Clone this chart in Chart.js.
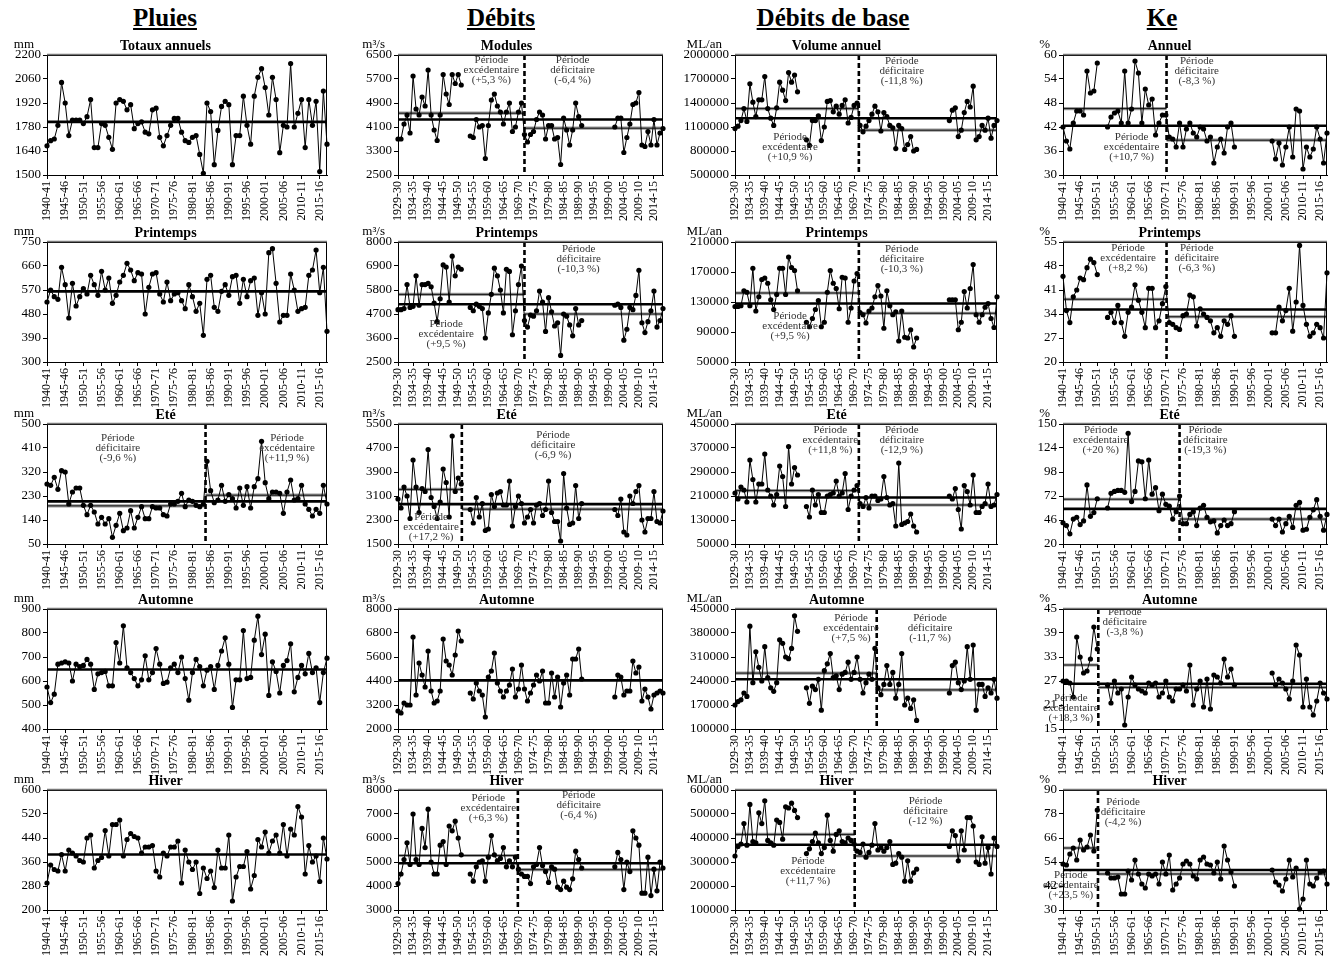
<!DOCTYPE html>
<html>
<head>
<meta charset="utf-8">
<script src="https://cdn.jsdelivr.net/npm/chart.js@4.4.0/dist/chart.umd.min.js"></script>
<style>
  body { margin: 0; background: #fff; width: 1340px; height: 960px; position: relative; overflow: hidden; font-family: "Liberation Serif", "Times New Roman", serif; }
  canvas { position: absolute; }
  .head { position: absolute; top: 4px; font-weight: bold; font-size: 25px; text-decoration: underline; transform: translateX(-50%); white-space: nowrap; }
</style>
</head>
<body>
<div class="head" style="left:165px">Pluies</div>
<div class="head" style="left:501px">Débits</div>
<div class="head" style="left:833px">Débits de base</div>
<div class="head" style="left:1162px">Ke</div>
<script>
// hydrological years
function seasons(a, b) {
    const out = [];
    for (let y = a; y <= b; y++) out.push(y + '-' + String((y + 1) % 100).padStart(2, '0'));
    return out;
}
const yearsPluies = seasons(1940, 2017);
const yearsDebits = seasons(1929, 2017);
const yearsKe = seasons(1940, 2017);

// ---- Pluies (mm)
const pluiesAnnuel = [1670,1700,1710,1790,2040,1920,1730,1820,1820,1820,1800,1840,1940,1660,1660,1800,1790,1720,1650,1920,1940,1930,1880,1910,1770,1800,1810,1750,1740,1880,1890,1720,1670,1730,1790,1830,1830,1750,1700,1690,1720,1730,1620,1510,1920,1870,1560,1760,1900,1930,1910,1560,1730,1730,1960,1790,1680,1960,2070,2120,2010,1850,2070,1940,1630,1790,1780,2150,1780,1860,1940,1660,1940,1790,1930,1520,1990,1680];
const pluiesPrintemps = [525,570,545,535,655,590,465,595,510,545,575,555,625,590,550,640,570,615,520,550,600,625,670,645,605,635,630,480,580,630,635,555,525,600,530,555,560,530,500,590,545,490,520,400,610,625,505,490,565,590,550,620,625,520,610,545,605,615,475,560,480,710,725,595,450,475,475,630,570,490,500,505,625,645,720,560,655,415];
const pluiesEte = [275,270,300,255,325,320,200,245,260,260,195,160,195,170,125,150,125,145,75,120,165,100,110,175,110,150,190,145,145,190,185,185,160,155,200,200,210,240,190,215,210,195,190,200,360,250,205,215,270,210,235,220,185,260,195,265,185,265,295,435,280,220,245,245,240,165,245,290,215,220,270,200,180,155,180,165,270,200];
const pluiesAutomne = [575,510,545,670,675,680,675,600,670,660,665,690,670,565,630,635,640,580,580,760,675,830,655,635,610,580,605,705,605,635,735,670,590,595,655,670,635,700,610,520,635,690,660,580,645,660,565,665,725,780,670,490,605,605,810,610,615,770,870,710,795,540,680,640,550,665,685,755,555,615,665,630,715,635,655,510,635,695];
const pluiesHiver = [290,350,335,330,385,330,400,390,380,365,360,440,450,340,365,375,465,380,485,485,500,380,435,455,445,440,390,410,410,415,330,310,390,380,410,410,430,290,400,360,335,360,255,340,305,330,275,400,340,340,450,230,310,345,345,395,270,315,435,410,460,390,430,450,390,485,380,470,450,545,510,320,415,360,380,295,440,370];

// ---- Débits (m3/s)
const debModules = [3700,3700,4200,4500,3900,5800,4700,4500,5100,4800,6000,4500,4000,3650,4500,5850,5200,4850,5850,5550,5850,5500, null,null,
    3800,3750,4350,4100,4150,3050,4150,5000,5200,4800,4600,4200,4600,4900,3950,4100,4600,4900,3850,3600,3850,3950,4350,4600,4500,3700,4150,4150,3700,3750,2850,4400,4000,3500,4000,4900,4450,4150,
    null,null,null,null,null,null,null,null,null,null,
    4100,4400,4400,3250,3750,4200,4850,4900,5250,3500,3450,3950,3500,4350,3500,3900,4050];
const debPrintemps = [4900,4900,4950,6050,5000,5050,6450,5100,6050,6050,6100,5950,5200,4350,5400,6950,6850,5250,7350,6450,6850,6750, null,null,
    5000,4850,5150,5050,4950,3600,4750,5600,6800,6450,5800,4750,6750,6650,3750,4850,6050,6900,4400,4100,4650,4600,4850,5750,5250,3900,5450,4800,4150,4300,2800,4700,4600,4200,3700,4950,4200,4400,
    null,null,null,null,null,null,null,null,null,null,
    5100,5150,5000,3500,4000,5000,4900,5550,6700,4300,3850,4350,4850,5750,4100,4400,4950];
const debEte = [3000,2700,3400,3100,2350,4300,3400,2550,3350,3250,4650,3050,2750,2350,2900,4000,3550,2400,5100,3250,3700,3500, null,null,
    2650,2200,3050,2400,2850,1950,2000,3150,2750,3200,3250,2800,2800,3600,2100,2750,3100,2850,2200,2400,2650,2200,2800,2850,2450,2650,3600,2550,2250,2250,1600,3850,2700,2150,2200,3450,2350,2850,
    null,null,null,null,null,null,null,null,null,null,
    2650,2450,3000,1900,1800,3100,2850,3250,3450,2300,1900,2350,2350,3250,2250,2200,2600];
const debAutomne = [2900,2800,3300,3200,3200,6600,3700,5300,4700,4100,5900,3900,3300,3400,3900,6500,5400,5200,4700,5700,6900,6400, null,null,
    3800,3500,4300,3900,3700,2600,4600,4900,5800,4300,3900,3600,3900,4200,5000,3600,4000,5200,4000,3400,3800,4200,4700,4400,4900,3300,3300,4800,3600,4600,3100,4300,4700,3700,5500,5500,6000,4500,
    null,null,null,null,null,null,null,null,null,null,
    3600,4700,4600,3700,3900,3900,5400,4800,5100,3400,4000,3600,3000,3700,3800,3900,3800];
const debHiver = [4100,4500,5100,5800,4900,7000,5100,4900,6400,5600,7200,5000,4500,4500,5700,5850,4900,6500,6300,6700,6000,5300, null,null,
    4500,4200,4800,5000,5050,4200,5200,6100,5300,5050,5150,5600,4800,5050,4800,5200,4700,4500,4400,4400,4100,4800,4900,5600,4850,4600,4150,4800,4700,3950,3850,4200,3950,3850,4300,5450,5100,4750,
    null,null,null,null,null,null,null,null,null,null,
    4800,5400,5100,3850,5000,4600,6300,6000,5700,3700,3700,5200,3600,4700,3800,5000,4750];

// ---- Débits de base (ML/an)
const ddbVolume = [1080000,1110000,1180000,1330000,1170000,1640000,1410000,1230000,1440000,1440000,1730000,1330000,1210000,1120000,1340000,1660000,1560000,1430000,1780000,1660000,1750000,1540000, null,null,
    940000,870000,1180000,1180000,1240000,930000,1100000,1420000,1430000,1290000,1360000,1260000,1370000,1440000,1150000,1220000,1370000,1400000,1120000,1040000,1110000,1180000,1260000,1360000,1290000,1050000,1280000,1230000,1120000,1090000,830000,1120000,1080000,820000,880000,980000,800000,820000,
    null,null,null,null,null,null,null,null,null,null,
    1180000,1310000,1340000,980000,1060000,1280000,1420000,1350000,1610000,940000,980000,1120000,1060000,1210000,960000,1120000,1180000];
const ddbPrintemps = [124000,124000,125000,145000,143000,125000,175000,118000,137000,160000,162000,155000,133000,120000,140000,175000,175000,140000,190000,176000,172000,145000, null,null,
    103000,97000,108000,120000,132000,97000,103000,143000,172000,155000,148000,121000,163000,162000,103000,122000,158000,168000,116000,113000,102000,118000,122000,137000,152000,138000,95000,145000,125000,113000,117000,78000,118000,83000,82000,93000,70000,82000,
    null,null,null,null,null,null,null,null,null,null,
    133000,133000,133000,93000,103000,144000,122000,148000,180000,113000,103000,113000,123000,128000,108000,96000,137000];
const ddbEte = [220000,200000,240000,230000,190000,330000,265000,190000,250000,250000,350000,230000,210000,180000,215000,310000,275000,175000,375000,250000,305000,280000, null,null,
    175000,140000,230000,180000,215000,155000,155000,210000,215000,220000,260000,210000,220000,285000,165000,210000,230000,245000,185000,175000,205000,170000,210000,210000,195000,200000,275000,205000,180000,185000,110000,320000,115000,120000,125000,150000,110000,90000,
    null,null,null,null,null,null,null,null,null,null,
    210000,200000,235000,165000,100000,245000,225000,180000,280000,155000,155000,175000,185000,250000,175000,180000,215000];
const ddbAutomne = [170000,180000,185000,205000,195000,400000,235000,325000,280000,240000,340000,250000,220000,210000,235000,360000,350000,310000,305000,335000,430000,385000, null,null,
    220000,175000,225000,215000,245000,155000,270000,290000,320000,250000,255000,215000,260000,265000,295000,245000,265000,310000,245000,205000,235000,260000,245000,335000,220000,200000,230000,285000,230000,265000,190000,230000,320000,170000,190000,160000,185000,125000,
    null,null,null,null,null,null,null,null,null,null,
    205000,285000,295000,235000,215000,240000,340000,245000,345000,155000,230000,230000,195000,220000,205000,245000,190000];
const ddbHiver = [325000,365000,375000,460000,370000,540000,385000,380000,505000,460000,555000,390000,380000,370000,475000,465000,395000,530000,525000,545000,515000,485000, null,null,
    335000,355000,385000,420000,380000,335000,360000,495000,390000,345000,415000,430000,385000,380000,400000,390000,375000,345000,340000,375000,320000,340000,370000,460000,350000,360000,345000,360000,385000,290000,295000,335000,320000,220000,305000,220000,255000,270000,
    null,null,null,null,null,null,null,null,null,null,
    365000,430000,410000,305000,430000,350000,485000,485000,450000,300000,290000,405000,295000,360000,250000,400000,365000];

// ---- Ke (%)
const keAnnuel = [42,38.5,36.5,43,46,46,45,56,50.5,51,58, null,null,
    42,44.5,45.5,46,43,56,43,46.5,58.5,55.5,43,51.5,47.5,49,40,43,45,45,39.5,39,37,43,37,41.5,43,40.5,39.5,42,41.5,38.5,39.5,33,37,39,35.5,42,43,37,
    null,null,null,null,null,null,null,null,null,null,
    38.5,34,38,32.5,37,42,34.5,46.5,46,31.5,37,34.5,36.5,42,39,33,40.5];
const kePrintemps = [45,35,31.5,39,41,44.5,44,47.5,50,49,45.5, null,null,
    33,34.5,31.5,36.5,31.5,27.5,34.5,36,42.5,38,34.5,30,41.5,41.5,30,32,37,42,31.5,31,30,29.5,33.5,34,39.5,39,30.5,35.5,34,33,32,28.5,30,27.5,32,31,33.5,27.5,
    null,null,null,null,null,null,null,null,null,null,
    28.5,28.5,36,32,35,41.5,29,37.5,54,36.5,31,27.5,28.5,31,30,27,46];
const keEte = [43,40,31,47,49,41,45,84,50,54,69, null,null,
    59,75,77,78,78,76,140,66,77,110,109,69,111,74,81,56,74,63,61,47,55,72,42,42,52,55,40,59,62,49,44,45,32,40,46,40,42,55,
    null,null,null,null,null,null,null,null,null,null,
    47,40,47,33,42,50,38,62,65,35,36,49,57,68,50,35,52];
const keAutomne = [27,27,26.5,23,38,33,29,29.5,32.5,40.5,35, null,null,
    26,21.5,27,24,25,16,23,28,26,25,24.5,24,26.5,26,26.5,23,24,27,23,22,25,25,26,24.5,31,21,25,27,20.5,27.5,20,28.5,28,26.5,32.5,28,30,26,
    null,null,null,null,null,null,null,null,null,null,
    29,26,27.5,26.5,25,22.5,27,36,33.5,20.5,27.5,20.5,18.5,22,26.5,24,22.5];
const keHiver = [53,52.5,58,61,55,65,60,61.5,67.5,59.5,80, null,null,
    48.5,46,46,46.5,38,38,49.5,45,55,48,43,41,48,47,48,43,54,48,57.5,40,43,46,53,54.5,53,47,45.5,55,56.5,53,52.5,48.5,54,45.5,62,55,49,42,
    null,null,null,null,null,null,null,null,null,null,
    50,44,42.5,39.5,45.5,55,46.5,51,30.5,35.5,55,43,42,46,49,49.5,43];

// y axis ranges [min, max, step]
const yPluies = [[1500, 2200, 140], [300, 750, 90], [50, 500, 90], [400, 900, 100], [200, 600, 80]];
const yDebits = [[2500, 6500, 800], [2500, 8000, 1100], [1500, 5500, 800], [2000, 8000, 1200], [3000, 8000, 1000]];
const yDdb = [[500000, 2000000, 300000], [50000, 210000, 40000], [50000, 450000, 80000], [100000, 450000, 70000], [100000, 600000, 100000]];
const yKe = [[30, 60, 6], [20, 55, 7], [20, 150, 26], [15, 45, 6], [30, 90, 12]];

// means [whole series, before break, after break] and break index
const meansPluies = [[1810], [565], [210, 193, 233], [648], [385]];
const breaksPluies = [null, null, 43.6, null, null];
const meansDebits = [[4350, 4560, 4060], [5150, 5600, 4700], [2830, 3320, 2660], [4430], [4950, 5270, 4680]];
const breaksDebits = [42, 42, 21.2, null, 39.8];
const meansDdb = [[1210000, 1330000, 1060000], [128000, 142000, 115000], [205000, 228000, 180000], [245000, 263000, 214000], [372000, 415000, 325000]];
const breaksDdb = [41.6, 41.6, 41.6, 47.6, 40.2];
const meansKe = [[42.3, 46.6, 38.7], [35.3, 38.3, 33.2], [58, 68.5, 47], [26.3, 31, 25.4], [50, 61, 48]];
const breaksKe = [30.2, 30.2, 34, 10.3, 10.2];

const rowTitles = [
    ['Totaux annuels', 'Printemps', 'Eté', 'Automne', 'Hiver'],
    ['Modules', 'Printemps', 'Eté', 'Automne', 'Hiver'],
    ['Volume annuel', 'Printemps', 'Eté', 'Automne', 'Hiver'],
    ['Annuel', 'Printemps', 'Eté', 'Automne', 'Hiver'],
];
const units = ['mm', 'm³/s', 'ML/an', '%'];

const EXC = 'excédentaire', DEF = 'déficitaire';
// text notes: [x index, y value, word, percentage]
const notes = [
    [[], [], [[19.5, 411, DEF, '(-9,6 %)'], [66, 411, EXC, '(+11,9 %)']], [], []],
    [[[31, 6000, EXC, '(+5,3 %)'], [58, 6000, DEF, '(-6,4 %)']],
     [[16, 3800, EXC, '(+9,5 %)'], [60, 7200, DEF, '(-10,3 %)']],
     [[11, 2060, EXC, '(+17,2 %)'], [51.5, 4800, DEF, '(-6,9 %)']],
     [],
     [[30, 7260, EXC, '(+6,3 %)'], [60, 7350, DEF, '(-6,4 %)']]],
    [[[18.5, 843000, EXC, '(+10,9 %)'], [56, 1800000, DEF, '(-11,8 %)']],
     [[18.5, 98000, EXC, '(+9,5 %)'], [56, 187000, DEF, '(-10,3 %)']],
     [[32, 397000, EXC, '(+11,8 %)'], [56, 397000, DEF, '(-12,9 %)']],
     [[39, 394600, EXC, '(+7,5 %)'], [65.5, 394600, DEF, '(-11,7 %)']],
     [[24.5, 260000, EXC, '(+11,7 %)'], [64, 510000, DEF, '(-12 %)']]],
    [[[20, 36.9, EXC, '(+10,7 %)'], [39, 56, DEF, '(-8,3 %)']],
     [[19, 50.3, EXC, '(+8,2 %)'], [39, 50.3, DEF, '(-6,3 %)']],
     [[11, 132.8, EXC, '(+20 %)'], [41.5, 132.8, DEF, '(-19,3 %)']],
     [[2.3, 20.3, EXC, '(+18,3 %)'], [18, 41.7, DEF, '(-3,8 %)']],
     [[2.3, 42.3, EXC, '(+23,5 %)'], [17.5, 79, DEF, '(-4,2 %)']]],
];

const columns = [
    { labels: yearsPluies, series: [pluiesAnnuel, pluiesPrintemps, pluiesEte, pluiesAutomne, pluiesHiver], y: yPluies, means: meansPluies, breaks: breaksPluies },
    { labels: yearsDebits, series: [debModules, debPrintemps, debEte, debAutomne, debHiver], y: yDebits, means: meansDebits, breaks: breaksDebits },
    { labels: yearsDebits, series: [ddbVolume, ddbPrintemps, ddbEte, ddbAutomne, ddbHiver], y: yDdb, means: meansDdb, breaks: breaksDdb },
    { labels: yearsKe, series: [keAnnuel, kePrintemps, keEte, keAutomne, keHiver], y: yKe, means: meansKe, breaks: breaksKe },
];

// layout
const colLeft = [0, 346, 672, 1008];
const colWidth = [331, 321, 329, 323];
const axisWidth = [47, 52, 63, 55];
const rowTop = [35, 222, 404, 589, 770];
const FONT = '"Liberation Serif", "Times New Roman", serif';
Chart.defaults.font.family = FONT;

function makeDecor(c, r) {
    const col = columns[c];
    const means = col.means[r], brk = col.breaks[r];
    return {
        id: 'decor',
        beforeDatasetsDraw(chart) {
            const { ctx, chartArea: a, scales: { x, y } } = chart;
            ctx.save();
            const xb = brk == null ? null : x.getPixelForValue(brk);
            const period = (x0, x1, v) => {
                const py = y.getPixelForValue(v);
                ctx.lineCap = 'butt';
                ctx.strokeStyle = '#9a9a9a'; ctx.lineWidth = 3.2;
                ctx.beginPath(); ctx.moveTo(x0, py); ctx.lineTo(x1, py); ctx.stroke();
                ctx.strokeStyle = '#111'; ctx.lineWidth = 1;
                ctx.beginPath(); ctx.moveTo(x0, py); ctx.lineTo(x1, py); ctx.stroke();
            };
            if (means.length > 1) {
                period(a.left, xb, means[1]);
                period(xb, a.right, means[2]);
            }
            const pm = y.getPixelForValue(means[0]);
            ctx.strokeStyle = '#000'; ctx.lineWidth = 2.6;
            ctx.beginPath(); ctx.moveTo(a.left, pm); ctx.lineTo(a.right, pm); ctx.stroke();
            if (xb != null) {
                ctx.setLineDash([5, 3]); ctx.lineWidth = 2.6;
                ctx.beginPath(); ctx.moveTo(xb, a.top); ctx.lineTo(xb, a.bottom); ctx.stroke();
            }
            ctx.restore();
        },
        afterDatasetsDraw(chart) {
            const { ctx, scales: { x, y } } = chart;
            ctx.save();
            ctx.fillStyle = '#333';
            ctx.font = '11px ' + FONT;
            ctx.textAlign = 'center'; ctx.textBaseline = 'middle';
            notes[c][r].forEach(([xi, yv, word, pct]) => {
                const px = x.getPixelForValue(xi), py = y.getPixelForValue(yv);
                ctx.fillText('Période', px, py - 10);
                ctx.fillText(word, px, py);
                ctx.fillText(pct, px, py + 10);
            });
            ctx.restore();
        },
        afterDraw(chart) {
            const { ctx, chartArea: a } = chart;
            ctx.save();
            ctx.strokeStyle = '#000'; ctx.lineWidth = 1;
            ctx.strokeRect(a.left + 0.5, a.top + 0.5, a.width - 1, a.height);
            ctx.strokeStyle = '#777'; ctx.lineWidth = 1.5;
            ctx.beginPath(); ctx.moveTo(a.left, a.top - 0.5); ctx.lineTo(a.right, a.top - 0.5); ctx.stroke();
            ctx.fillStyle = '#000';
            ctx.textBaseline = 'middle';
            ctx.font = 'bold 14px ' + FONT;
            ctx.textAlign = 'center';
            ctx.fillText(rowTitles[c][r], chart.width / 2, 11);
            ctx.font = '13px ' + FONT;
            ctx.textAlign = 'right';
            ctx.fillText(units[c], axisWidth[c] - 13, 10);
            ctx.restore();
        }
    };
}

columns.forEach((col, c) => {
    col.series.forEach((data, r) => {
        const cv = document.createElement('canvas');
        cv.width = colWidth[c];
        cv.height = 190;
        cv.style.left = colLeft[c] + 'px';
        cv.style.top = rowTop[r] + 'px';
        document.body.appendChild(cv);
        const [ymin, ymax, ystep] = col.y[r];
        new Chart(cv, {
            type: 'line',
            data: {
                labels: col.labels,
                datasets: [{
                    data: data,
                    borderColor: '#000',
                    borderWidth: 1,
                    pointRadius: 2.6,
                    pointBackgroundColor: '#000',
                    pointBorderColor: '#000',
                    pointBorderWidth: 0,
                    spanGaps: false,
                    clip: false,
                }]
            },
            options: {
                responsive: false,
                animation: false,
                devicePixelRatio: 1,
                events: [],
                layout: { padding: { top: 20, right: 4, left: 0, bottom: 0 } },
                plugins: { legend: { display: false }, tooltip: { enabled: false } },
                scales: {
                    x: {
                        ticks: {
                            autoSkip: false, minRotation: 90, maxRotation: 90, padding: 2,
                            color: '#000', font: { size: 12 },
                            callback(v, i) { return i % 5 === 0 ? this.getLabelForValue(v) : null; }
                        },
                        grid: { drawOnChartArea: false, color: '#000', tickLength: 4 },
                        border: { color: '#000' },
                        afterFit(s) { s.height = 50; s.paddingLeft = 0; s.paddingRight = 0; }
                    },
                    y: {
                        min: ymin, max: ymax,
                        ticks: { stepSize: ystep, padding: 2, color: '#000', font: { size: 13 }, callback: v => String(v) },
                        grid: { drawOnChartArea: false, color: '#000', tickLength: 4 },
                        border: { color: '#000' },
                        afterFit(s) { s.width = axisWidth[c]; }
                    }
                }
            },
            plugins: [makeDecor(c, r)]
        });
    });
});
</script>
</body>
</html>
